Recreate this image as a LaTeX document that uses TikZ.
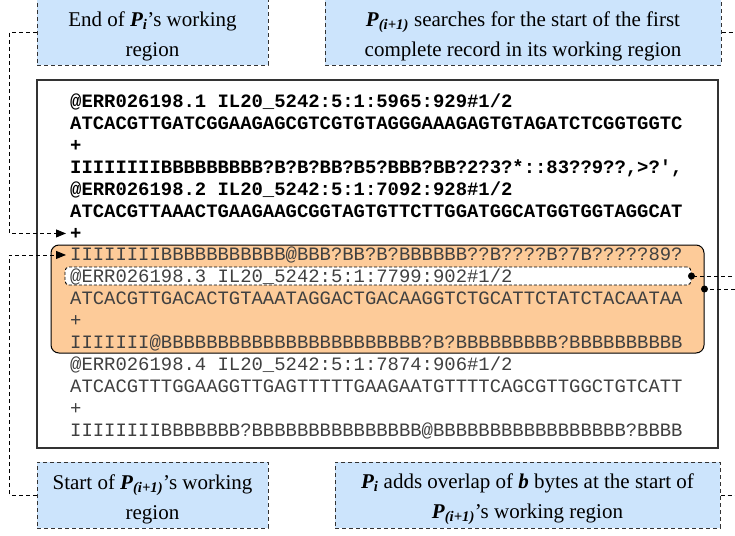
\documentclass[tikz,border=0pt]{standalone}
\usepackage{fontspec}
\setmainfont{Liberation Serif}
\setmonofont{Liberation Mono}
\usetikzlibrary{arrows.meta}
\definecolor{boxblue}{RGB}{204,228,252}
\definecolor{boxorange}{RGB}{253,203,153}
\newcommand{\PP}[1]{\textbf{\textit{P\textsubscript{#1}}}}
\begin{document}
\begin{tikzpicture}[x=1pt,y=-1pt,
  note/.style={draw=black!80, dash pattern=on 4pt off 3pt, line width=1pt, fill=boxblue,
    minimum height=66pt, inner sep=0pt},
  notetext/.style={align=center, font=\fontsize{21}{30}\selectfont, inner sep=0pt},
  code/.style={anchor=base west, inner sep=0pt, font=\ttfamily\fontsize{18.9}{22}\selectfont},
  codeb/.style={code, font=\ttfamily\bfseries\fontsize{18.9}{22}\selectfont, text=black},
  coder/.style={code, text=black!75},
  conn/.style={draw=black, line width=0.9pt, dash pattern=on 4pt off 3pt},
  arr/.style={conn, -{Triangle[length=10pt,width=8pt]}, shorten >=4pt},
  dotmark/.style={circle, fill=black, inner sep=0pt, minimum size=7pt}
]
\useasboundingbox (0,0) rectangle (735,535);

% main frame
\node[draw=black!80, line width=1.3pt, fill=white, minimum width=681pt, minimum height=368pt, inner sep=0pt] (main) at (377.5,264) {};
% orange region
\node[draw=black, line width=1pt, fill=boxorange, rounded corners=8pt, minimum width=653pt, minimum height=108pt, inner sep=0pt] (orange) at (377.5,299) {};
% header of record 3
\node[draw=black, line width=0.9pt, dash pattern=on 3pt off 2pt, fill=white, rounded corners=4pt, minimum width=626pt, minimum height=18pt, inner sep=0pt] (hdr) at (378,276) {};

% text lines
\node[codeb] (l0) at (70,107.3) {@ERR026198.1 IL20\_5242:5:1:5965:929\#1/2};
\node[codeb] (l1) at (70,129.25) {ATCACGTTGATCGGAAGAGCGTCGTGTAGGGAAAGAGTGTAGATCTCGGTGGTC};
\node[codeb] (l2) at (70,151.2) {+};
\node[codeb] (l3) at (70,173.15) {IIIIIIIIBBBBBBBBB?B?B?BB?B5?BBB?BB?2?3?*::83??9??,>?',};
\node[codeb] (l4) at (70,195.1) {@ERR026198.2 IL20\_5242:5:1:7092:928\#1/2};
\node[codeb] (l5) at (70,217.05) {ATCACGTTAAACTGAAGAAGCGGTAGTGTTCTTGGATGGCATGGTGGTAGGCAT};
\node[codeb] (l6) at (70,239.0) {+};
\node[coder] (l7) at (70,260.5) {IIIIIIIIBBBBBBBBBBB@BBB?BB?B?BBBBBB??B????B?7B?????89?};
\node[coder] (l8) at (70,282.4) {@ERR026198.3 IL20\_5242:5:1:7799:902\#1/2};
\node[coder] (l9) at (70,304.3) {ATCACGTTGACACTGTAAATAGGACTGACAAGGTCTGCATTCTATCTACAATAA};
\node[coder] (l10) at (70,326.2) {+};
\node[coder] (l11) at (70,348.0) {IIIIIII@BBBBBBBBBBBBBBBBBBBBBBB?B?BBBBBBBBB?BBBBBBBBBB};
\node[coder] (l12) at (70,370.0) {@ERR026198.4 IL20\_5242:5:1:7874:906\#1/2};
\node[coder] (l13) at (70,392.0) {ATCACGTTTGGAAGGTTGAGTTTTTGAAGAATGTTTTCAGCGTTGGCTGTCATT};
\node[coder] (l14) at (70,414.0) {+};
\node[coder] (l15) at (70,436.0) {IIIIIIIIBBBBBBB?BBBBBBBBBBBBBBB@BBBBBBBBBBBBBBBBB?BBBB};

% note boxes
\node[note, minimum width=231pt] (tl) at (152.5,32) {};
\node[note, minimum width=396pt] (tr) at (523,32) {};
\node[note, minimum width=231pt] (bl) at (152.5,495) {};
\node[note, minimum width=385pt] (br) at (527.5,495) {};
\node[notetext] (tlt) at ([yshift=-4pt]tl.center) {End of \PP{i}'s working\\region};
\node[notetext] (trt) at ([yshift=-4pt]tr.center) {\PP{(i+1)} searches for the start of the first\\complete record in its working region};
\node[notetext] (blt) at ([yshift=-4pt]bl.center) {Start of \PP{(i+1)}'s working\\region};
\node[notetext] (brt) at ([yshift=-4pt]br.center) {\PP{i} adds overlap of \textbf{\textit{b}} bytes at the start of\\\PP{(i+1)}'s working region};

% dots
\coordinate (d2) at (orange.east |- 0,289);
\node[dotmark] (dot1) at (hdr.east) {};
\node[dotmark] (dot2) at (d2) {};

% connectors
\draw[arr] (tl.west) -- ++(-27,0) |- (l6.west);
\draw[arr] (bl.west) -- ++(-27,0) |- (l7.west);
\draw[conn] (tr.east) -- ++(30,0) |- (dot1.center);
\draw[conn] (br.east) -- ++(30,0) |- (dot2.center);
\end{tikzpicture}
\end{document}
